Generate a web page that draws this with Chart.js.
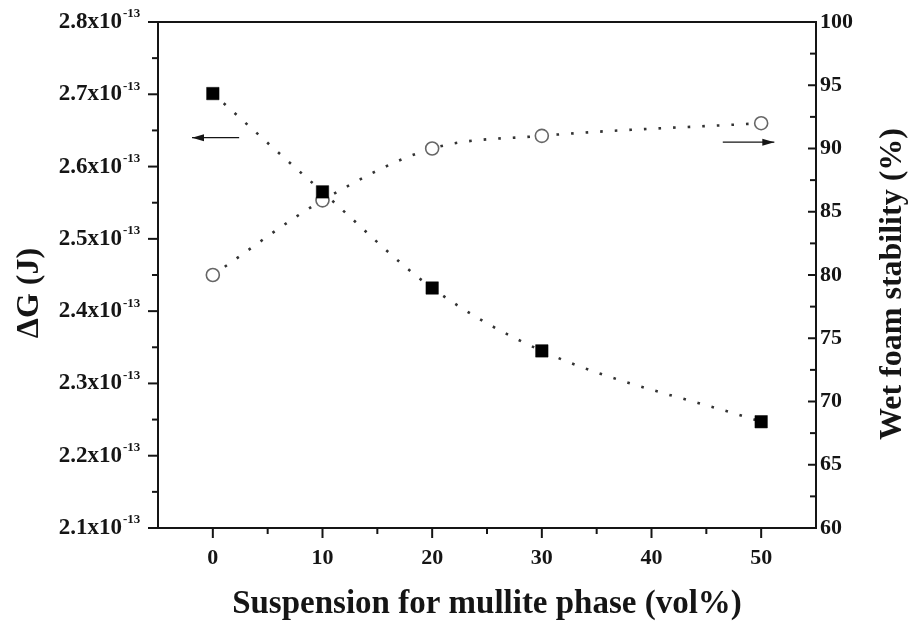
<!DOCTYPE html>
<html><head><meta charset="utf-8">
<script src="https://cdn.jsdelivr.net/npm/chart.js@4"></script>
<style>html,body{margin:0;padding:0;background:#fff}#wrap{width:913px;height:631px}</style>
</head><body><div id="wrap"><canvas id="c" width="913" height="631"></canvas></div>
<script>
// ---- data ----
const suspension = [0, 10, 20, 30, 50];                                   // vol%
const deltaG = [2.701e-13, 2.565e-13, 2.432e-13, 2.345e-13, 2.247e-13];    // J
const foamStability = [80.0, 85.9, 90.0, 91.0, 92.0];                      // %
const xTicks = [0, 10, 20, 30, 40, 50];
const leftTicks = [2.1, 2.2, 2.3, 2.4, 2.5, 2.6, 2.7, 2.8];               // x10^-13
const rightTicks = [60, 65, 70, 75, 80, 85, 90, 95, 100];
const xTitle = 'Suspension for mullite phase (vol%)';
const leftTitle = 'ΔG (J)';
const rightTitle = 'Wet foam stability (%)';
const leftExponent = '-13';

const SERIF = '"Liberation Serif", "Times New Roman", serif';
const INK = '#151515';

function minorValues(ticks, min, max) {
  const out = [];
  const step = ticks[1] - ticks[0];
  const cands = [ticks[0] - step / 2];
  ticks.forEach(t => cands.push(t + step / 2));
  cands.forEach(v => { if (v > min + 1e-9 * Math.abs(step) && v < max - 1e-9 * Math.abs(step)) out.push(v); });
  return out;
}

const decor = {
  id: 'decor',
  afterDraw(chart) {
    const {ctx, chartArea: a, scales} = chart;
    const xs = scales.x, yl = scales.yL, yr = scales.yR;
    ctx.save();
    ctx.strokeStyle = INK; ctx.fillStyle = INK;
    ctx.lineWidth = 2;
    ctx.strokeRect(a.left, a.top, a.right - a.left, a.bottom - a.top);
    const tickLine = (x1, y1, x2, y2) => { ctx.beginPath(); ctx.moveTo(x1, y1); ctx.lineTo(x2, y2); ctx.stroke(); };
    // x ticks (outward)
    xTicks.forEach(v => { const p = xs.getPixelForValue(v); tickLine(p, a.bottom, p, a.bottom + 10); });
    minorValues(xTicks, xs.min, xs.max).forEach(v => { const p = xs.getPixelForValue(v); tickLine(p, a.bottom, p, a.bottom + 6); });
    // left ticks (outward)
    const lt = leftTicks.map(v => v * 1e-13);
    lt.forEach(v => { const p = yl.getPixelForValue(v); tickLine(a.left - 10, p, a.left, p); });
    minorValues(leftTicks, leftTicks[0], leftTicks[leftTicks.length - 1]).forEach(v => { const p = yl.getPixelForValue(v * 1e-13); tickLine(a.left - 6, p, a.left, p); });
    // right ticks (inward)
    rightTicks.forEach(v => { const p = yr.getPixelForValue(v); tickLine(a.right - 8, p, a.right, p); });
    minorValues(rightTicks, yr.min, yr.max).forEach(v => { const p = yr.getPixelForValue(v); tickLine(a.right - 6, p, a.right, p); });
    // exponent superscripts on left labels
    ctx.font = 'bold 13px ' + SERIF;
    ctx.textAlign = 'left'; ctx.textBaseline = 'middle';
    const labRight = yl.right - yl.options.ticks.padding;
    lt.forEach(v => { const p = yl.getPixelForValue(v); ctx.fillText(leftExponent, labRight + 1, p - 8); });
    // axis titles (left and right, both reading upward)
    ctx.font = 'bold 32px ' + SERIF;
    ctx.textAlign = 'center'; ctx.textBaseline = 'middle';
    ctx.save(); ctx.translate(30, 293); ctx.rotate(-Math.PI / 2); ctx.fillText(leftTitle, 0, 0); ctx.restore();
    ctx.save(); ctx.translate(893, 284); ctx.rotate(-Math.PI / 2); ctx.fillText(rightTitle, 0, 0); ctx.restore();
    // arrows
    ctx.lineWidth = 1.3;
    const arrow = (x1, x2, y, dir) => {
      tickLine(x1, y, x2, y);
      ctx.beginPath();
      ctx.moveTo(x2, y); ctx.lineTo(x2 - dir * 12, y - 3.5); ctx.lineTo(x2 - dir * 12, y + 3.5); ctx.closePath(); ctx.fill();
    };
    const ayL = yl.getPixelForValue(2.64e-13);
    arrow(xs.getPixelForValue(2.4), xs.getPixelForValue(-1.9), ayL, -1);
    const ayR = yr.getPixelForValue(90.5);
    arrow(xs.getPixelForValue(46.5), xs.getPixelForValue(51.2), ayR, 1);
    ctx.restore();
  }
};

const tickFont = {family: SERIF, size: 22, weight: 'bold'};
const noPad = s => { s.paddingTop = 0; s.paddingBottom = 0; s.paddingLeft = 0; s.paddingRight = 0; };

new Chart(document.getElementById('c'), {
  type: 'line',
  data: {
    datasets: [
      {
        label: 'ΔG',
        data: suspension.map((x, i) => ({x, y: deltaG[i]})),
        yAxisID: 'yL',
        borderColor: '#333', borderWidth: 2.6, borderDash: [2.6, 12], borderCapStyle: 'butt',
        cubicInterpolationMode: 'monotone',
        pointStyle: 'rect', pointRadius: 8.8, pointBackgroundColor: '#000', pointBorderColor: '#000', pointBorderWidth: 0.5
      },
      {
        label: 'Wet foam stability',
        data: suspension.map((x, i) => ({x, y: foamStability[i]})),
        yAxisID: 'yR',
        borderColor: '#333', borderWidth: 2.6, borderDash: [2.6, 12], borderCapStyle: 'butt',
        cubicInterpolationMode: 'monotone',
        pointStyle: 'circle', pointRadius: 6.5, pointBackgroundColor: '#fff', pointBorderColor: '#666', pointBorderWidth: 1.6
      }
    ]
  },
  options: {
    responsive: false, animation: false, devicePixelRatio: 1,
    layout: {padding: {top: 22, left: 0, right: 0, bottom: 0}},
    plugins: {legend: {display: false}, tooltip: {enabled: false}},
    scales: {
      x: {
        type: 'linear', position: 'bottom', min: -5, max: 55,
        afterBuildTicks: s => { s.ticks = xTicks.map(v => ({value: v})); },
        afterFit: s => { s.height = 103; noPad(s); },
        grid: {display: false, drawTicks: false},
        border: {display: true, color: INK, width: 2},
        ticks: {font: tickFont, color: INK, padding: 17, maxRotation: 0, callback: v => String(v)},
        title: {display: true, text: xTitle, color: INK, font: {family: SERIF, size: 33, weight: 'bold'}, padding: {top: 0, bottom: 7}}
      },
      yL: {
        type: 'linear', position: 'left',
        min: leftTicks[0] * 1e-13, max: leftTicks[leftTicks.length - 1] * 1e-13,
        afterBuildTicks: s => { s.ticks = leftTicks.map(v => ({value: v * 1e-13})); },
        afterFit: s => { s.width = 158; noPad(s); },
        grid: {display: false, drawTicks: false},
        border: {display: true, color: INK, width: 2},
        ticks: {font: {family: SERIF, size: 23, weight: 'bold'}, color: INK, padding: 36,
                callback: v => (v / 1e-13).toFixed(1) + 'x10'}
      },
      yR: {
        type: 'linear', position: 'right',
        min: rightTicks[0], max: rightTicks[rightTicks.length - 1],
        afterBuildTicks: s => { s.ticks = rightTicks.map(v => ({value: v})); },
        afterFit: s => { s.width = 97; noPad(s); },
        grid: {display: false, drawTicks: false},
        border: {display: true, color: INK, width: 2},
        ticks: {font: tickFont, color: INK, padding: 4, callback: v => String(v)}
      }
    }
  },
  plugins: [decor]
});
</script>
</body></html>
